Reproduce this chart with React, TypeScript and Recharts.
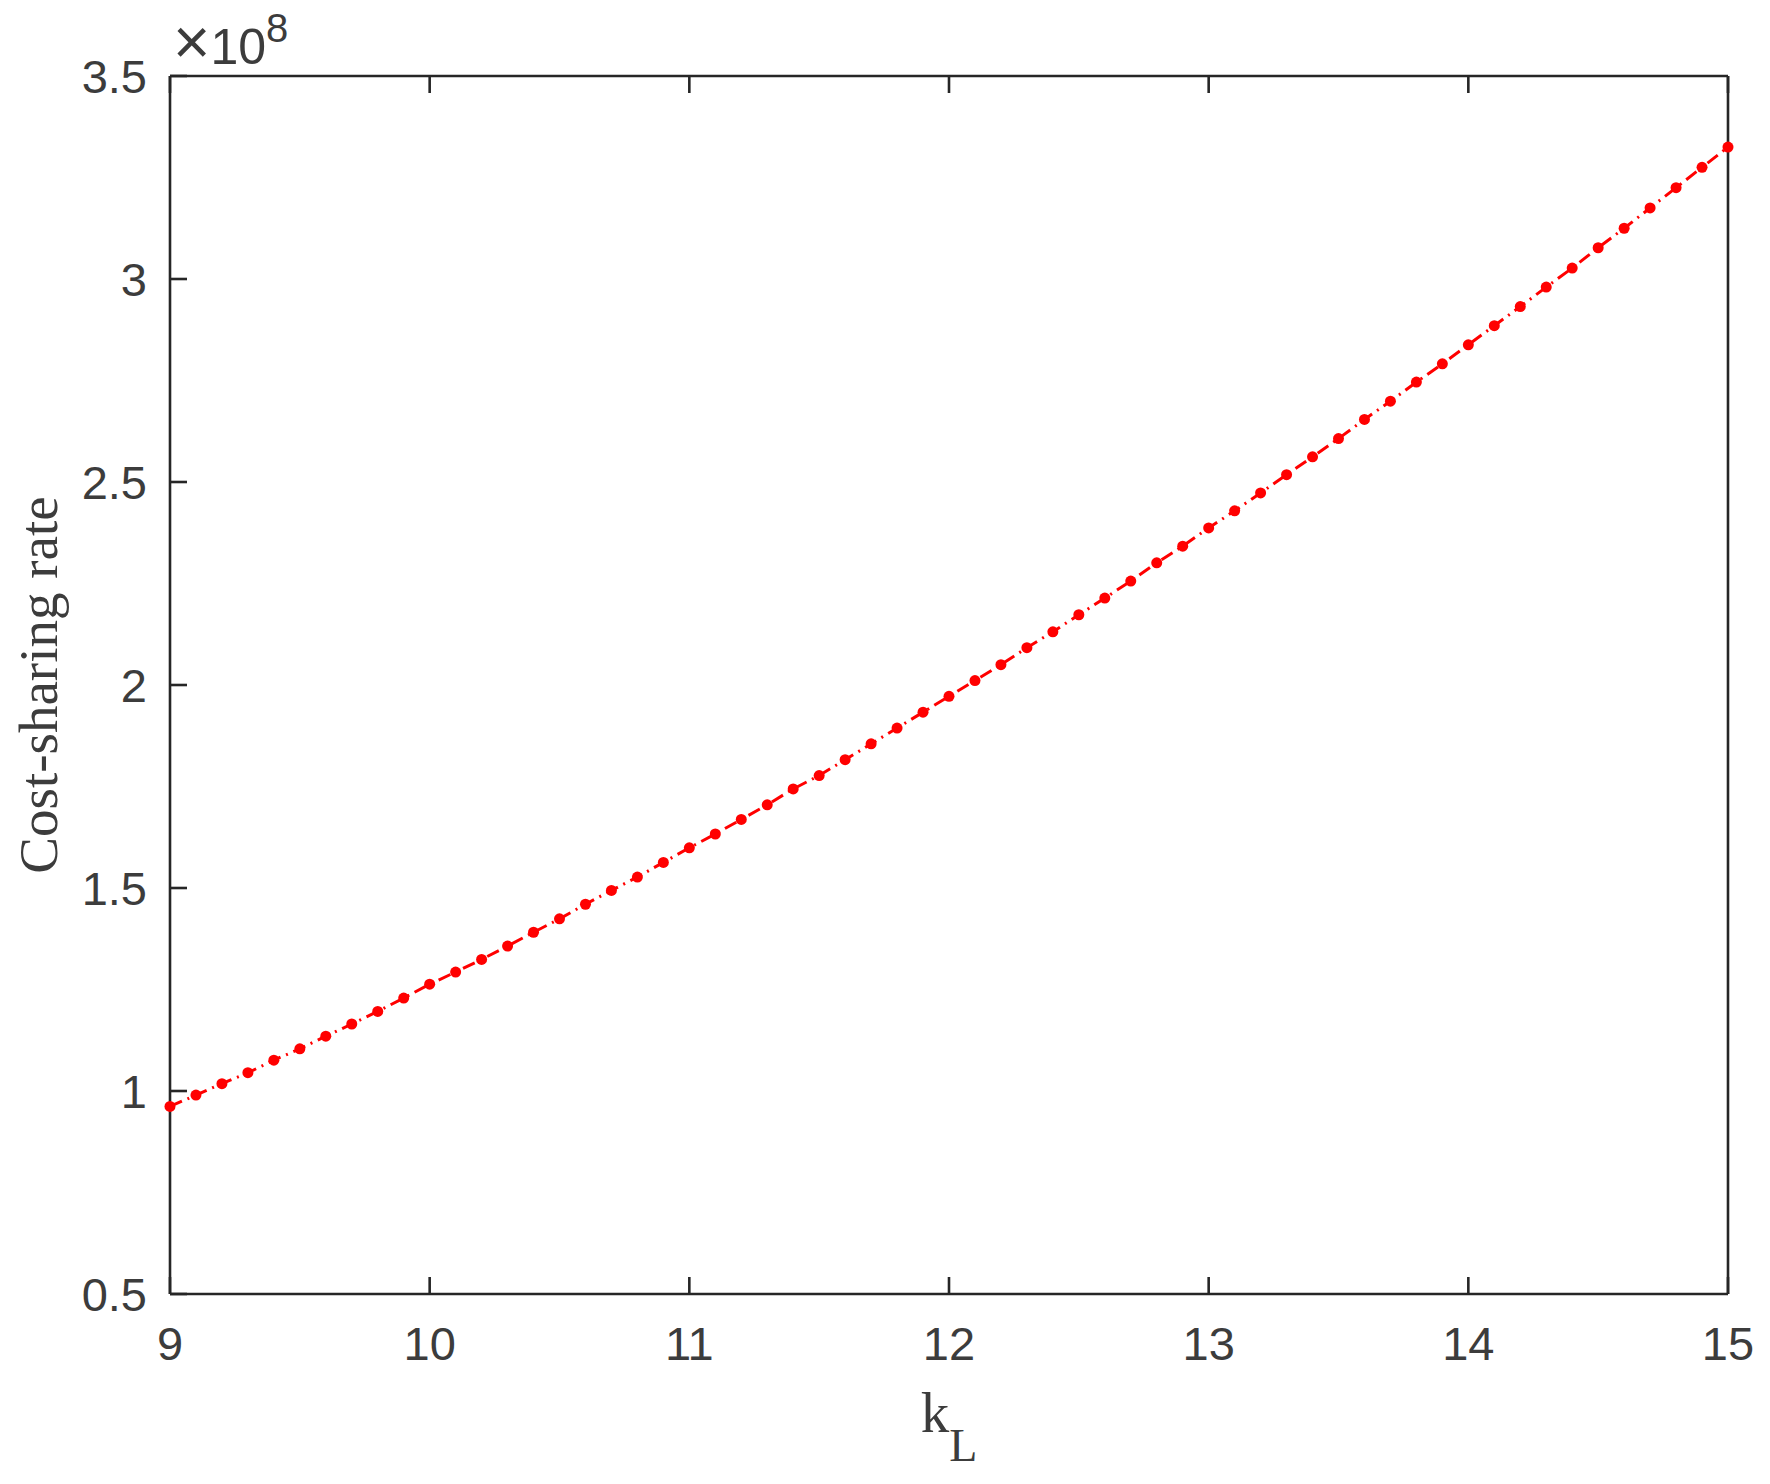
import React from "react";
import { LineChart, Line, XAxis, YAxis } from "recharts";

// k_L sweep, step 0.1
const kL = [
  9, 9.1, 9.2, 9.3, 9.4, 9.5, 9.6, 9.7, 9.8, 9.9,
  10, 10.1, 10.2, 10.3, 10.4, 10.5, 10.6, 10.7, 10.8, 10.9,
  11, 11.1, 11.2, 11.3, 11.4, 11.5, 11.6, 11.7, 11.8, 11.9,
  12, 12.1, 12.2, 12.3, 12.4, 12.5, 12.6, 12.7, 12.8, 12.9,
  13, 13.1, 13.2, 13.3, 13.4, 13.5, 13.6, 13.7, 13.8, 13.9,
  14, 14.1, 14.2, 14.3, 14.4, 14.5, 14.6, 14.7, 14.8, 14.9,
  15,
];

// cost-sharing rate, in units of 1e8
const rate = [
  0.962, 0.99, 1.018, 1.045, 1.076, 1.104, 1.135, 1.165, 1.196, 1.229,
  1.263, 1.293, 1.324, 1.357, 1.391, 1.424, 1.46, 1.494, 1.527, 1.563,
  1.599, 1.633, 1.669, 1.705, 1.744, 1.777, 1.816, 1.855, 1.894, 1.933,
  1.972, 2.011, 2.05, 2.092, 2.131, 2.173, 2.214, 2.256, 2.301, 2.342,
  2.387, 2.429, 2.473, 2.518, 2.562, 2.607, 2.654, 2.699, 2.746, 2.791,
  2.838, 2.885, 2.932, 2.98, 3.027, 3.077, 3.125, 3.175, 3.225, 3.275,
  3.325,
];

const xTicks = [9, 10, 11, 12, 13, 14, 15];
const yTicks = [0.5, 1, 1.5, 2, 2.5, 3, 3.5];

const data = kL.map((k, i) => ({ k, rate: rate[i] }));

const axisColor = "#262626";
const textColor = "#3c3c3c";
const sansFont = "'Liberation Sans', Arial, Helvetica, sans-serif";
const serifFont = "'Liberation Serif', 'Times New Roman', serif";
const TICK = 17;
const AXW = 2.6;

// MATLAB-style ticks: line drawn inward, label outside
function makeTick(side: "bottom" | "top" | "left" | "right") {
  return function Tick(props: any) {
    const { x, y, payload } = props;
    const v = payload.value;
    if (side === "bottom") {
      return (
        <g>
          <line x1={x} y1={y} x2={x} y2={y - TICK} stroke={axisColor} strokeWidth={AXW} />
          <text x={x} y={y + 33} dy="0.71em" textAnchor="middle" fill={textColor} fontSize={47} fontFamily={sansFont}>
            {v}
          </text>
        </g>
      );
    }
    if (side === "left") {
      return (
        <g>
          <line x1={x} y1={y} x2={x + TICK} y2={y} stroke={axisColor} strokeWidth={AXW} />
          <text x={x - 23} y={y} dy="0.355em" textAnchor="end" fill={textColor} fontSize={47} fontFamily={sansFont}>
            {v}
          </text>
        </g>
      );
    }
    if (side === "top") {
      return <line x1={x} y1={y} x2={x} y2={y + TICK} stroke={axisColor} strokeWidth={AXW} />;
    }
    return <line x1={x} y1={y} x2={x - TICK} y2={y} stroke={axisColor} strokeWidth={AXW} />;
  };
}

function YTitle(props: any) {
  const vb = props.viewBox || {};
  const top = vb.y || 0;
  const cy = top + (vb.height || 0) / 2;
  const axisX = (vb.x || 0) + (vb.width || 0);
  return (
    <g>
      <text
        x={57}
        y={cy}
        transform={`rotate(-90 57 ${cy})`}
        textAnchor="middle"
        fill={textColor}
        fontFamily={serifFont}
        fontSize={55}
      >
        Cost-sharing rate
      </text>
      <text x={axisX + 3} y={top - 12} fill={textColor} fontFamily={sansFont} fontSize={50}>
        <tspan fontSize={64}>×</tspan>
        <tspan>10</tspan>
        <tspan fontSize={40} dy={-22}>8</tspan>
      </text>
    </g>
  );
}

function XTitle(props: any) {
  const vb = props.viewBox || {};
  const cx = (vb.x || 0) + (vb.width || 0) / 2;
  return (
    <text x={cx} y={1432} textAnchor="middle" fill={textColor} fontFamily={serifFont} fontSize={57}>
      <tspan>k</tspan>
      <tspan fontSize={46} dy={29}>L</tspan>
    </text>
  );
}

export default function App() {
  return (
    <div style={{ position: "absolute", left: 0, top: 0, width: 1770, height: 1484, background: "#fff" }}>
      <LineChart
        width={1770}
        height={1484}
        data={data}
        margin={{ top: 75, right: 41, left: 0, bottom: 0 }}
      >
        <XAxis
          xAxisId="b"
          dataKey="k"
          type="number"
          domain={[9, 15]}
          ticks={xTicks}
          height={190}
          tickSize={0}
          tickMargin={0}
          interval={0}
          axisLine={{ stroke: axisColor, strokeWidth: AXW }}
          tickLine={false}
          tick={makeTick("bottom")}
          label={{ content: XTitle }}
        />
        <XAxis
          xAxisId="t"
          orientation="top"
          dataKey="k"
          type="number"
          domain={[9, 15]}
          ticks={xTicks}
          height={1}
          tickSize={0}
          tickMargin={0}
          interval={0}
          axisLine={{ stroke: axisColor, strokeWidth: AXW }}
          tickLine={false}
          tick={makeTick("top")}
        />
        <YAxis
          yAxisId="l"
          type="number"
          domain={[0.5, 3.5]}
          ticks={yTicks}
          width={170}
          tickSize={0}
          tickMargin={0}
          interval={0}
          axisLine={{ stroke: axisColor, strokeWidth: AXW }}
          tickLine={false}
          tick={makeTick("left")}
          label={{ content: YTitle }}
        />
        <YAxis
          yAxisId="r"
          orientation="right"
          type="number"
          domain={[0.5, 3.5]}
          ticks={yTicks}
          width={1}
          tickSize={0}
          tickMargin={0}
          interval={0}
          axisLine={{ stroke: axisColor, strokeWidth: AXW }}
          tickLine={false}
          tick={makeTick("right")}
        />
        <Line
          xAxisId="b"
          yAxisId="l"
          type="linear"
          dataKey="rate"
          stroke="#ff0000"
          strokeWidth={3}
          strokeDasharray="13 6 2 6"
          dot={{ r: 5.5, fill: "#ff0000", stroke: "none", strokeDasharray: "none" }}
          isAnimationActive={false}
        />
      </LineChart>
    </div>
  );
}
